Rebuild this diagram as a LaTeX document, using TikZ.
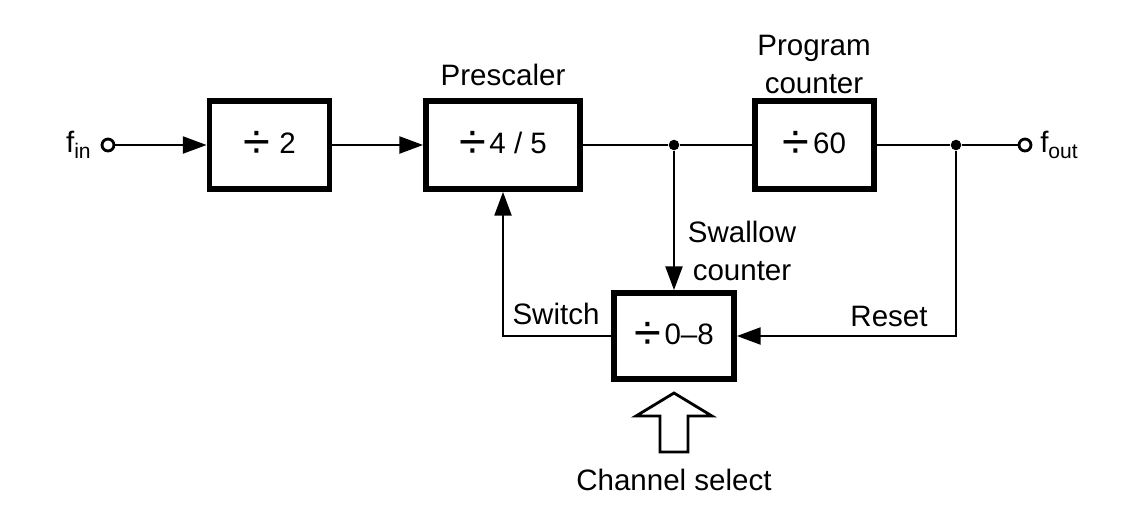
\documentclass[tikz,border=0pt]{standalone}
\usepackage{fontspec}
\setmainfont{Liberation Sans}
\usetikzlibrary{arrows.meta}
\usepackage{graphicx}
\newcommand{\sbs}[1]{\raisebox{-0.35ex}{\fontsize{15}{15}\selectfont #1}}
\newcommand{\dv}{\raisebox{-0.16em}{\scalebox{1.65}{÷}}\hspace{0.12em}}
\begin{document}
\begin{tikzpicture}[x=0.025cm,y=-0.025cm,
  every node/.style={font=\fontsize{21}{27}\selectfont, inner sep=0pt},
  box/.style={draw, line width=4pt, minimum height=2.2cm},
  wire/.style={line width=2pt},
  arr/.style={wire, -{Triangle[length=17pt,width=12pt]}},
  term/.style={circle, draw, line width=2pt, minimum size=8.5pt, fill=white},
  dot/.style={circle, fill, minimum size=7.5pt},
  lbl/.style={align=center}]
\useasboundingbox (0,0) rectangle (1134,516);
% boxes
\node[box, minimum width=3.0cm] (div2) at (269.5,145) {\dv\hspace{0.2em}2};
\node[box, minimum width=3.85cm] (pre) at (503,145) {\dv 4 / 5};
\node[box, minimum width=2.97cm] (prog) at (814.5,145) {\dv 60};
\node[box, minimum width=3.0cm, minimum height=2.15cm] (swal) at (674,336) {\dv 0–8};
% terminals and junctions
\node[term] (in) at (108,145) {};
\node[term] (out) at (1025,145) {};
\node[dot] (j1) at (674,145) {};
\node[dot] (j2) at (956,145) {};
% labels
\node[anchor=east] (fin) at (91,145) {f\sbs{in}};
\node[anchor=west] (fout) at (1040,145) {f\sbs{out}};
\node[lbl] (lpre) at (503,75) {Prescaler};
\node[lbl] (lprog) at (814,64) {Program\\counter};
\node[lbl] (lswal) at (742,251) {Swallow\\counter};
\node[lbl] (lsw) at (556,314) {Switch};
\node[lbl] (lres) at (889,316) {Reset};
\node[lbl] (lch) at (674,480) {Channel select};
% connectors
\draw[arr] (in) -- (div2);
\draw[arr] (div2) -- (pre);
\draw[wire] (pre) -- (j1) -- (prog);
\draw[wire] (prog) -- (j2) -- (out);
\draw[arr] (j1) -- (swal.north);
\draw[arr] (j2) |- (swal.east);
\draw[arr] (swal.west) -| (pre.south);
% channel select hollow arrow
\coordinate (tip) at (674,393);
\draw[line width=2pt, line join=miter] (tip) -- (712,416) -- (688,416) -- (688,452) -- (660,452) -- (660,416) -- (636,416) -- cycle;
\end{tikzpicture}
\end{document}
